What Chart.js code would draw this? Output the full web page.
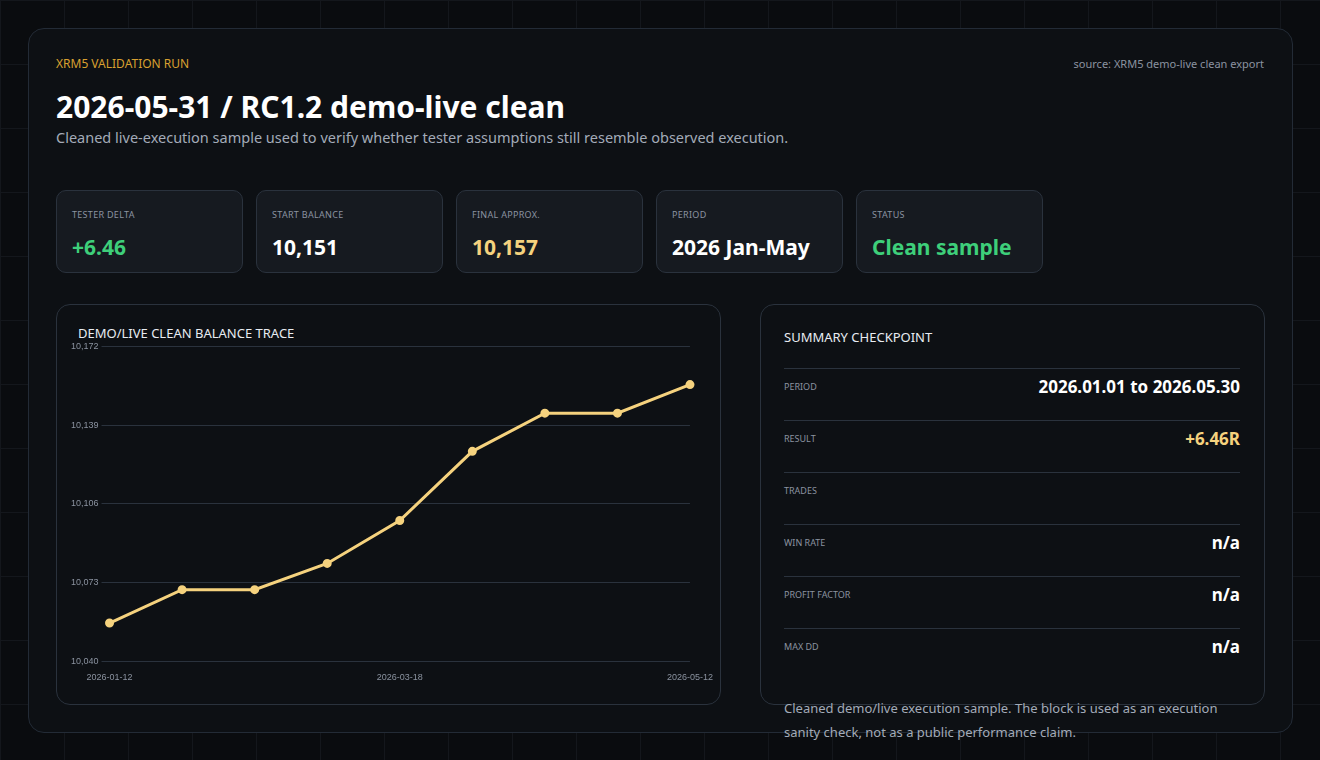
<!DOCTYPE html>
<html><head><meta charset="utf-8">
<script src="https://cdn.jsdelivr.net/npm/chart.js@4/dist/chart.umd.min.js"></script>
<style>
body{margin:0;width:1320px;height:760px;overflow:hidden;font-family:"Noto Sans",sans-serif;color:#fff;
background-color:#0a0c0f;background-image:linear-gradient(#14171c 1px,transparent 1px),linear-gradient(90deg,#14171c 1px,transparent 1px);background-size:64px 64px;position:relative}
.a{position:absolute}
.card{left:28px;top:28px;width:1263px;height:703px;border:1px solid #232b36;border-radius:16px;background:#0d1014}
.kpi{top:190px;width:185px;height:81px;border:1px solid #2a323d;border-radius:10px;background:#161a20}
.kpi .l{position:absolute;left:15px;top:17px;font-size:9px;color:#8b93a0;letter-spacing:.3px}
.kpi .v{position:absolute;left:15px;top:42px;font-size:21px;font-weight:bold}
.panel{top:304px;height:399px;border:1px solid #2a323d;border-radius:14px;background:#0d1014}
.row{left:784px;width:456px;height:52px;border-top:1px solid #2a323d}
.row .l{position:absolute;left:0;top:11px;font-size:9px;color:#8b93a0}
.row .v{position:absolute;right:0;top:6px;font-size:17px;font-weight:bold}
</style></head><body>
<div class="a card"></div>
<div class="a" style="left:56px;top:55px;font-size:12px;color:#d9a030">XRM5 VALIDATION RUN</div>
<div class="a" style="right:56px;top:56px;font-size:11px;color:#8b93a0">source: XRM5 demo-live clean export</div>
<div class="a" style="left:56px;top:86px;font-size:30px;font-weight:bold">2026-05-31 / RC1.2 demo-live clean</div>
<div class="a" style="left:56px;top:127px;font-size:14.5px;color:#a3abb8">Cleaned live-execution sample used to verify whether tester assumptions still resemble observed execution.</div>

<div class="a kpi" style="left:56px"><div class="l">TESTER DELTA</div><div class="v" style="color:#3ecf7a">+6.46</div></div>
<div class="a kpi" style="left:256px"><div class="l">START BALANCE</div><div class="v">10,151</div></div>
<div class="a kpi" style="left:456px"><div class="l">FINAL APPROX.</div><div class="v" style="color:#f5d27e">10,157</div></div>
<div class="a kpi" style="left:656px"><div class="l">PERIOD</div><div class="v">2026 Jan-May</div></div>
<div class="a kpi" style="left:856px"><div class="l">STATUS</div><div class="v" style="color:#3ecf7a">Clean sample</div></div>

<div class="a panel" style="left:56px;width:663px"></div>
<div class="a" style="left:78px;top:324px;font-size:13px;color:#e8ecf2">DEMO/LIVE CLEAN BALANCE TRACE</div>
<div class="a" style="left:68px;top:338px;width:648px;height:348px"><canvas id="grafico"></canvas></div>

<div class="a panel" style="left:760px;width:503px"></div>
<div class="a" style="left:784px;top:328px;font-size:13px;color:#e8ecf2">SUMMARY CHECKPOINT</div>
<div class="a row" style="top:368px"><div class="l">PERIOD</div><div class="v">2026.01.01 to 2026.05.30</div></div>
<div class="a row" style="top:420px"><div class="l">RESULT</div><div class="v" style="color:#f5d27e">+6.46R</div></div>
<div class="a row" style="top:472px"><div class="l">TRADES</div><div class="v"></div></div>
<div class="a row" style="top:524px"><div class="l">WIN RATE</div><div class="v">n/a</div></div>
<div class="a row" style="top:576px"><div class="l">PROFIT FACTOR</div><div class="v">n/a</div></div>
<div class="a row" style="top:628px"><div class="l">MAX DD</div><div class="v">n/a</div></div>
<div class="a" style="left:784px;top:696px;width:460px;font-size:13px;line-height:24px;color:#a3abb8">Cleaned demo/live execution sample. The block is used as an execution sanity check, not as a public performance claim.</div>

<script>
const fechas = ["2026-01-12","2026-01-28","2026-02-13","2026-03-01","2026-03-18","2026-04-01","2026-04-15","2026-04-29","2026-05-12"];
const balance = [10056,10070,10070,10081,10099,10128,10144,10144,10156];
const ticksY = [10040,10073,10106,10139,10172];
const etiquetasX = [0,4,8];

const ctx = document.getElementById("grafico").getContext("2d");
new Chart(ctx, {
  type: "line",
  data: {
    labels: fechas,
    datasets: [{
      data: balance,
      borderColor: "#f5d27e",
      backgroundColor: "#f5d27e",
      borderWidth: 3,
      pointRadius: 3,
      tension: 0
    }]
  },
  options: {
    responsive: true,
    maintainAspectRatio: false,
    animation: false,
    layout: { padding: { right: 0, top: 4 } },
    plugins: { legend: { display: false }, tooltip: { enabled: false } },
    scales: {
      x: {
        grid: { display: false },
        border: { display: false },
        ticks: {
          color: "#8b93a0", font: { size: 9 }, maxRotation: 0, autoSkip: false,
          callback: (v, i) => etiquetasX.includes(i) ? fechas[i] : ""
        }
      },
      y: {
        min: ticksY[0], max: ticksY[ticksY.length - 1],
        afterBuildTicks: axis => { axis.ticks = ticksY.map(v => ({ value: v })); },
        grid: { color: "#2a323d" },
        border: { display: false },
        ticks: { color: "#8b93a0", font: { size: 9 }, callback: v => v.toLocaleString("en-US") }
      }
    }
  }
});
</script>
</body></html>
